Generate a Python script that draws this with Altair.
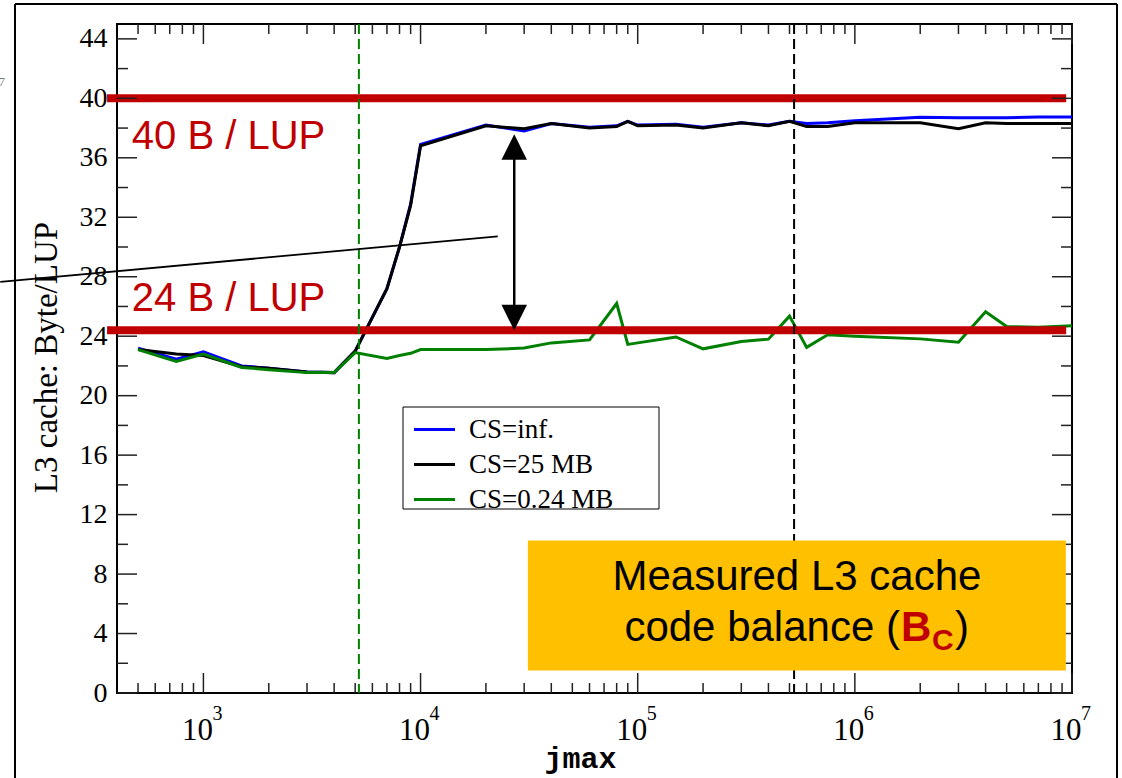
import altair as alt
import pandas as pd

# ---------------- data ----------------
jmax = [500, 750, 1000, 1500, 2000, 3000, 4000, 5000, 7000, 8000, 9000,
        10000, 20000, 30000, 40000, 60000, 80000, 90000, 100000, 150000,
        200000, 300000, 400000, 500000, 600000, 750000, 1000000, 2000000,
        3000000, 4000000, 5000000, 7000000, 10000000]
cs_inf = [23.2, 22.45, 22.95, 22.0, 21.85, 21.6, 21.55, 23.0, 27.2, 30.0, 32.9,
          36.9, 38.2, 37.8, 38.3, 38.05, 38.15, 38.45, 38.2, 38.25,
          38.05, 38.35, 38.2, 38.45, 38.3, 38.35, 38.5, 38.72,
          38.7, 38.7, 38.7, 38.75, 38.75]
cs_25 = [23.1, 22.8, 22.7, 21.95, 21.85, 21.6, 21.55, 23.0, 27.2, 30.0, 32.8,
         36.8, 38.15, 37.95, 38.3, 38.0, 38.1, 38.45, 38.15, 38.2,
         38.0, 38.35, 38.15, 38.45, 38.1, 38.1, 38.35, 38.35,
         37.95, 38.35, 38.3, 38.3, 38.3]
cs_024 = [23.1, 22.3, 22.8, 21.9, 21.75, 21.55, 21.55, 22.9, 22.5, 22.7, 22.85,
          23.1, 23.1, 23.2, 23.55, 23.75, 26.2, 23.45, 23.55, 23.95,
          23.15, 23.65, 23.8, 25.35, 23.25, 24.1, 24.0, 23.82,
          23.6, 25.65, 24.65, 24.6, 24.7]
series_names = ["CS=inf.", "CS=25 MB", "CS=0.24 MB"]
series_colors = ["#0000FF", "#000000", "#008000"]

y_major = [0, 4, 8, 12, 16, 20, 24, 28, 32, 36, 40, 44]
y_minor = [2, 6, 10, 14, 18, 22, 26, 30, 34, 38, 42]
x_major = [1000, 10000, 100000, 1000000, 10000000]
x_base = ["10", "10", "10", "10", "10"]
x_exponents = ["3", "4", "5", "6", "7"]
x_minor = [500, 600, 700, 800, 900,
           2000, 3000, 4000, 5000, 6000, 7000, 8000, 9000,
           20000, 30000, 40000, 50000, 60000, 70000, 80000, 90000,
           200000, 300000, 400000, 500000, 600000, 700000, 800000, 900000,
           2000000, 3000000, 4000000, 5000000, 6000000, 7000000, 8000000, 9000000]

balance_levels = [40, 24.4]
balance_labels = ["40 B / LUP", "24 B / LUP"]
cache_limits = [5200, 525000]   # jmax where the cache is full (0.24 MB, 25 MB)

# ---------------- layout constants ----------------
W, H = 955, 669
RED = "#C00000"
xs = alt.Scale(type="log", domain=[400, 10000000], nice=False)
ys = alt.Scale(domain=[0, 45], nice=False, zero=False)

df = pd.DataFrame({
    "jmax": jmax * 3,
    "value": cs_inf + cs_25 + cs_024,
    "series": [series_names[0]] * len(jmax) + [series_names[1]] * len(jmax)
              + [series_names[2]] * len(jmax),
})

xaxis = alt.Axis(values=x_major, labels=False, ticks=False, domain=False, grid=False,
                 title="jmax", titleFont="Liberation Mono",
                 titleFontWeight="bold", titleFontSize=30, titleColor="black",
                 titleX=463, titleY=74, titleAlign="center", titleBaseline="alphabetic")
yaxis = alt.Axis(values=y_major, ticks=False, domain=False, grid=False,
                 labelFont="Liberation Serif", labelFontSize=28, labelColor="black",
                 labelPadding=10, title="L3 cache: Byte/LUP", titleFont="Liberation Serif",
                 titleFontSize=33, titleFontWeight="normal", titleColor="black",
                 titleX=-71, titleY=333, titleAngle=270, titleAlign="center",
                 titleBaseline="middle")


def X(field, **kw):
    return alt.X(field, scale=xs, axis=xaxis, **kw)


def Y(field, **kw):
    return alt.Y(field, scale=ys, axis=yaxis, **kw)


legend = alt.Legend(title=None, orient="none", legendX=294, legendY=382,
                    symbolType="M-2,0L2,0", symbolSize=420, symbolStrokeWidth=3,
                    labelFont="Liberation Serif", labelFontSize=27, labelColor="black",
                    labelOffset=21, padding=10, rowPadding=7)

color_enc = alt.Color("series:N", scale=alt.Scale(domain=series_names, range=series_colors),
                      legend=legend)

# ---------------- annotation layers ----------------
one = pd.DataFrame({"k": [0]})

# outer slide frame
frame_top = alt.Chart(one).mark_rule(color="black", strokeWidth=2).encode(
    x=alt.value(-102), x2=alt.value(1000), y=alt.value(-20))
frame_left = alt.Chart(one).mark_rule(color="black", strokeWidth=2).encode(
    x=alt.value(-102), y=alt.value(-20), y2=alt.value(760))
frame_right = alt.Chart(one).mark_rule(color="black", strokeWidth=2).encode(
    x=alt.value(1000), y=alt.value(-20), y2=alt.value(760))
stray7 = alt.Chart(one).mark_text(text="7", align="right", baseline="alphabetic",
                                  font="Liberation Serif", fontSize=13, color="#777777").encode(
    x=alt.value(-112), y=alt.value(62))

# decade labels 10^n drawn as base + superscript
lab_df = pd.DataFrame({"v": x_major, "b": x_base, "e": x_exponents})
bases = alt.Chart(lab_df).mark_text(align="center", baseline="alphabetic", dx=-6,
                                    font="Liberation Serif", fontSize=31, color="black").encode(
    x=X("v:Q"), y=alt.value(H + 47), text="b:N")
exponents = alt.Chart(lab_df).mark_text(align="left", baseline="alphabetic", dx=9,
                                        font="Liberation Serif", fontSize=20, color="black").encode(
    x=X("v:Q"), y=alt.value(H + 27), text="e:N")

# inward ticks
ymaj = pd.DataFrame({"v": y_major})
ymin = pd.DataFrame({"v": y_minor})
xmaj = pd.DataFrame({"v": x_major})
xmin = pd.DataFrame({"v": x_minor})
tick_style = dict(color="#222222", strokeWidth=1.5)


def yticks(d, length):
    left = alt.Chart(d).mark_rule(**tick_style).encode(
        y=Y("v:Q"), x=alt.value(0), x2=alt.value(length))
    right = alt.Chart(d).mark_rule(**tick_style).encode(
        y=Y("v:Q"), x=alt.value(W - length), x2=alt.value(W))
    return [left, right]


def xticks(d, length):
    bottom = alt.Chart(d).mark_rule(**tick_style).encode(
        x=X("v:Q"), y=alt.value(H - length), y2=alt.value(H))
    top = alt.Chart(d).mark_rule(**tick_style).encode(
        x=X("v:Q"), y=alt.value(0), y2=alt.value(length))
    return [bottom, top]


tick_layers = yticks(ymaj, 20) + yticks(ymin, 11) + xticks(xmaj, 20) + xticks(xmin, 10)

# red balance lines and labels
red_df = pd.DataFrame({"y": balance_levels, "x0": [360] * 2, "x1": [9400000] * 2})
red_lines = alt.Chart(red_df).mark_rule(color=RED, strokeWidth=8).encode(
    x=X("x0:Q"), x2="x1:Q", y=Y("y:Q"))
red_txt_df = pd.DataFrame({"t": balance_labels, "x": [468, 468], "y": [36.6, 25.67]})
red_text = alt.Chart(red_txt_df).mark_text(align="left", baseline="alphabetic",
                                           font="Liberation Sans", fontSize=40, color=RED).encode(
    x=X("x:Q"), y=Y("y:Q"), text="t:N")

# dashed cache limit lines
green_dash = alt.Chart(pd.DataFrame({"x": [cache_limits[0]]})).mark_rule(
    color="#008000", strokeWidth=2, strokeDash=[10, 5]).encode(x=X("x:Q"))
black_dash = alt.Chart(pd.DataFrame({"x": [cache_limits[1]]})).mark_rule(
    color="black", strokeWidth=2, strokeDash=[10, 5]).encode(x=X("x:Q"))

# diagonal pointer line
diag = alt.Chart(pd.DataFrame({"x": [116], "x2": [22670], "y": [27.65], "y2": [30.72]})).mark_rule(
    color="black", strokeWidth=1.8).encode(x=X("x:Q"), x2="x2:Q", y=Y("y:Q"), y2="y2:Q")

# double arrow
arrow_df = pd.DataFrame({"x": [27000], "y": [36.7], "y2": [25.3]})
arrow_line = alt.Chart(arrow_df).mark_rule(color="black", strokeWidth=2.5).encode(
    x=X("x:Q"), y=Y("y:Q"), y2="y2:Q")
arrow_up = alt.Chart(pd.DataFrame({"x": [27000], "y": [36.72]})).mark_point(
    shape="M0,-1L1,1L-1,1Z", size=650, filled=True, color="black", opacity=1, strokeWidth=0).encode(
    x=X("x:Q"), y=Y("y:Q"))
arrow_dn = alt.Chart(pd.DataFrame({"x": [27000], "y": [25.25]})).mark_point(
    shape="M0,1L1,-1L-1,-1Z", size=650, filled=True, color="black", opacity=1, strokeWidth=0).encode(
    x=X("x:Q"), y=Y("y:Q"))

# legend frame
legend_frame = alt.Chart(one).mark_rect(fill="white", stroke="black", strokeWidth=1).encode(
    x=alt.value(286), x2=alt.value(542), y=alt.value(383), y2=alt.value(485))

# orange info box
box = alt.Chart(pd.DataFrame({"x": [31200], "x2": [9370000], "y": [10.26], "y2": [1.51]})).mark_rect(
    color="#FFC000").encode(x=X("x:Q"), x2="x2:Q", y=Y("y:Q"), y2="y2:Q")
BX = 541000
box_l1 = alt.Chart(pd.DataFrame({"x": [BX], "y": [6.90]})).mark_text(
    text="Measured L3 cache", align="center", baseline="alphabetic",
    font="Liberation Sans", fontSize=42, color="black").encode(x=X("x:Q"), y=Y("y:Q"))
l2 = pd.DataFrame({"x": [BX], "y": [3.47]})
box_l2a = alt.Chart(l2).mark_text(
    text="code balance (", align="right", baseline="alphabetic", dx=103,
    font="Liberation Sans", fontSize=42, color="black").encode(x=X("x:Q"), y=Y("y:Q"))
box_l2b = alt.Chart(l2).mark_text(
    text="B", align="left", baseline="alphabetic", dx=104,
    font="Liberation Sans", fontSize=42, fontWeight="bold", color=RED).encode(x=X("x:Q"), y=Y("y:Q"))
box_l2c = alt.Chart(l2).mark_text(
    text="C", align="left", baseline="alphabetic", dx=135, dy=9,
    font="Liberation Sans", fontSize=30, fontWeight="bold", color=RED).encode(x=X("x:Q"), y=Y("y:Q"))
box_l2d = alt.Chart(l2).mark_text(
    text=")", align="left", baseline="alphabetic", dx=158,
    font="Liberation Sans", fontSize=42, color="black").encode(x=X("x:Q"), y=Y("y:Q"))


# ---------------- data lines ----------------
def series_layer(name):
    return alt.Chart(df).transform_filter(alt.datum.series == name).mark_line(
        strokeWidth=3, clip=True).encode(x=X("jmax:Q"), y=Y("value:Q"), color=color_enc)


lines = [series_layer(n) for n in series_names]

chart = alt.layer(
    *lines,
    frame_top, frame_left, frame_right, stray7, bases, exponents,
    red_lines, green_dash, black_dash,
    *tick_layers,
    legend_frame,
    red_text, diag, arrow_line, arrow_up, arrow_dn,
    box, box_l1, box_l2a, box_l2b, box_l2c, box_l2d,
).properties(
    width=W, height=H,
    autosize=alt.AutoSizeParams(type="none"),
    padding={"left": 117, "top": 24, "right": 50, "bottom": 85},
    background="white",
).configure_view(stroke="black", strokeWidth=2)

chart.save("out.html", embed_options={"renderer": "svg", "actions": False})
